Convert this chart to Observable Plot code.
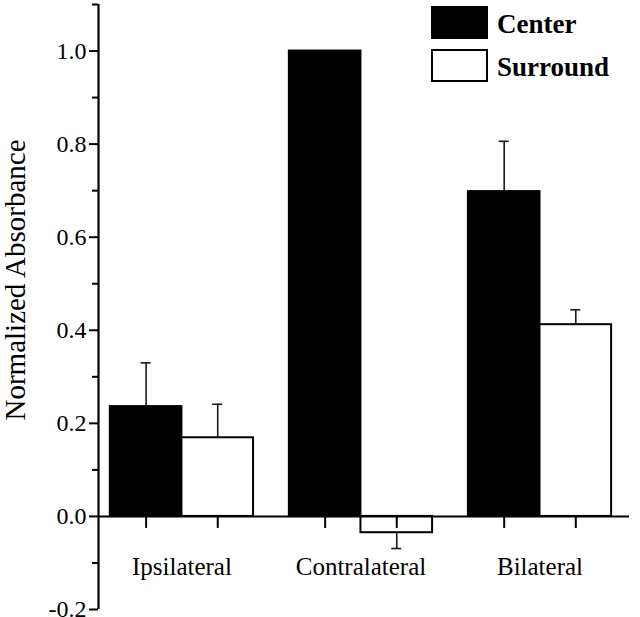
<!DOCTYPE html>
<html>
<head>
<meta charset="utf-8">
<script src="https://cdn.jsdelivr.net/npm/d3@7"></script>
<script src="https://cdn.jsdelivr.net/npm/@observablehq/plot@0.6"></script>
<style>
  html, body { margin: 0; padding: 0; background: #fff; }
  #wrap { position: relative; width: 640px; height: 617px; font-family: "Liberation Serif", "Times New Roman", serif; }
  .lg-box { position: absolute; box-sizing: border-box; width: 57px; height: 33px; border: 2px solid #000; }
  .lg-txt { position: absolute; font-weight: bold; font-size: 27px; line-height: 27px; color: #000; font-family: "Liberation Serif", "Times New Roman", serif; }
</style>
</head>
<body>
<div id="wrap"></div>
<script>
// ---- data ----
const groups = ["Ipsilateral", "Contralateral", "Bilateral"];
const centerValues = [0.236, 1.0, 0.698];
const centerErrors = [0.094, 0, 0.108];
const surroundValues = [0.169, -0.035, 0.412];
const surroundErrors = [0.072, 0.034, 0.032];
const series = ["Center", "Surround"];
const majorTicks = [-0.2, 0.0, 0.2, 0.4, 0.6, 0.8, 1.0];
const minorTicks = [-0.1, 0.1, 0.3, 0.5, 0.7, 0.9, 1.1];

// ---- table ----
const bars = [];
groups.forEach((g, i) => {
  bars.push({group: g, gi: i, series: "Center", value: centerValues[i], err: centerErrors[i], off: -1});
  bars.push({group: g, gi: i, series: "Surround", value: surroundValues[i], err: surroundErrors[i], off: 0});
});
const halfBar = 0.4;           // bar width in group units
const capHalf = 0.028;        // error cap half-width in group units
const yDomain = [-0.2, 1.1];
const mTop = 4, mBottom = 8, H = 617;
const tickLen = 12 * (yDomain[1] - yDomain[0]) / (H - mTop - mBottom);

const errs = bars.filter(d => d.err > 0).map(d => {
  const c = d.gi + d.off * halfBar + halfBar / 2;
  const end = d.value >= 0 ? d.value + d.err : d.value - d.err;
  return {c, from: d.value, to: end};
});

const chart = Plot.plot({
  width: 640,
  height: H,
  marginTop: mTop,
  marginBottom: mBottom,
  marginLeft: 98,
  marginRight: 11,
  style: {fontFamily: "'Liberation Serif', 'Times New Roman', serif", fontSize: "24px", color: "#000", background: "#fff", overflow: "visible"},
  x: {domain: [-0.466, 2.5], axis: null},
  y: {domain: yDomain, axis: null},
  marks: [
    Plot.rectY(bars, {
      x1: d => d.gi + d.off * halfBar,
      x2: d => d.gi + (d.off + 1) * halfBar,
      y: "value",
      fill: d => d.series === "Center" ? "#000" : "#fff",
      stroke: "#000",
      strokeWidth: 2
    }),
    Plot.ruleX(errs, {x: "c", y1: "from", y2: "to", stroke: "#1a1a1a", strokeWidth: 1.6}),
    Plot.ruleY(errs, {y: "to", x1: d => d.c - capHalf, x2: d => d.c + capHalf, stroke: "#1a1a1a", strokeWidth: 1.6}),
    Plot.ruleY([0], {stroke: "#000", strokeWidth: 2}),
    Plot.ruleX([-0.466], {stroke: "#000", strokeWidth: 2.2}),
    Plot.ruleX(bars, {x: d => d.gi + d.off * halfBar + halfBar / 2, y1: 0, y2: -tickLen, stroke: "#000", strokeWidth: 2}),
    Plot.axisY(majorTicks, {anchor: "left", tickSize: 9, tickPadding: 3, strokeWidth: 2, tickFormat: d => d.toFixed(1), fontSize: 24, label: null}),
    Plot.axisY(minorTicks, {anchor: "left", tickSize: 6, strokeWidth: 2, tickFormat: () => "", label: null}),
    Plot.text(groups, {x: (d, i) => i, y: 0, dy: 51, text: d => d, fontSize: 25, textAnchor: "middle"}),
    Plot.text(["Normalized Absorbance"], {frameAnchor: "left", dx: -74, dy: -27, rotate: -90, text: d => d, fontSize: 29, textAnchor: "middle", lineAnchor: "bottom"})
  ]
});
const wrap = document.getElementById("wrap");
wrap.appendChild(chart);

// legend
const legendItems = [
  {label: series[0], fill: "#000", top: 6},
  {label: series[1], fill: "#fff", top: 49}
];
legendItems.forEach(it => {
  const b = document.createElement("div");
  b.className = "lg-box";
  b.style.left = "431px"; b.style.top = it.top + "px"; b.style.background = it.fill;
  wrap.appendChild(b);
  const t = document.createElement("div");
  t.className = "lg-txt";
  t.textContent = it.label;
  t.style.left = "497px"; t.style.top = (it.top + 5) + "px";
  wrap.appendChild(t);
});
</script>
</body>
</html>
